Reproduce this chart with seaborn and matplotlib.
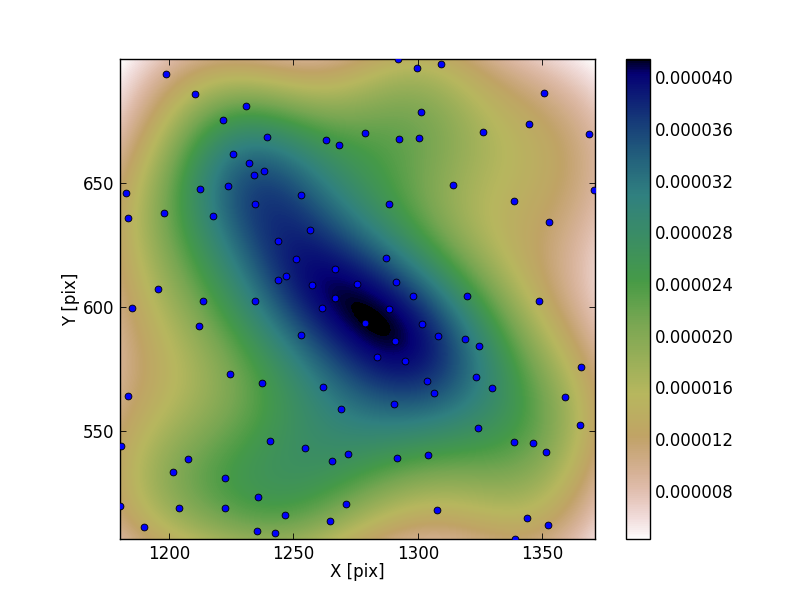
import numpy as np
import pandas as pd
import matplotlib
matplotlib.use("Agg")
import matplotlib.pyplot as plt
from matplotlib.ticker import FormatStrFormatter
import seaborn as sns

x_pix = [1198.8,1210.5,1231.0,1221.7,1239.4,1263.1,1268.4,1278.7,1225.7,1232.2,1238.2,1234.2,1212.5,1223.7,1182.7,1253.1,1234.6,1198.0,1217.7,1183.5,1256.7,1243.8,1251.1,1266.7,1247.0,1243.8,1257.5,1275.6,1195.6,1266.7,
         1185.1,1213.7,1234.6,1261.5,1212.1,1253.1,1224.5,1237.4,1261.9,1183.8,1269.2,1240.6,1180.8,1254.7,1272.0,1265.5,1207.6,1201.6,1222.5,1235.8,1271.2,1180.6,1204.0,1222.5,1246.6,1264.7,1189.9,1235.4,1242.6,
         1292.0,1299.6,1309.2,1350.7,1301.2,1344.6,1326.1,1368.8,1292.4,1300.4,1314.1,1370.8,1288.3,1338.6,1352.7,1287.1,1291.2,1298.0,1319.7,
         1348.7,1288.3,1278.7,1301.6,1308.0,1318.9,1324.5,1290.8,1283.5,1294.8,1303.6,1323.3,1329.7,1306.4,1365.5,1359.1,1290.4,1365.1,1324.1,1338.6,1346.2,1351.4,1291.6,1304.0,1307.6,1343.8,1352.3,1339.0]
y_pix = [694.0,685.9,681.0,675.4,668.5,667.3,665.3,670.2,661.7,658.1,654.8,653.2,647.6,648.8,646.0,645.2,641.5,637.9,636.7,635.9,631.0,626.6,619.4,615.3,612.5,610.9,608.9,609.3,607.3,603.6,
         599.6,602.4,602.4,599.6,592.3,588.7,573.0,569.4,567.7,564.1,558.9,546.0,544.0,543.1,540.7,537.9,538.7,533.5,531.0,523.4,520.6,519.8,519.0,519.0,516.1,513.7,511.3,509.7,508.9,
         700.0,696.4,698.0,686.3,678.6,673.8,670.6,669.8,667.7,668.1,649.2,647.2,641.5,642.7,634.3,619.8,610.1,604.4,604.4,
         602.4,599.2,593.5,593.1,588.3,587.1,584.3,586.3,579.8,578.2,570.2,571.8,567.3,565.3,575.8,563.7,560.9,552.4,551.2,545.6,545.2,541.5,539.1,540.3,518.1,514.9,512.1,506.5]
x_range = [1180.4, 1371.2]
y_range = [506.4, 699.9]
color_range = [0.00000424, 0.00004140]
cbar_ticks = [0.000008,0.000012,0.000016,0.000020,0.000024,0.000028,0.000032,0.000036,0.000040]

sns.set_style("white")
plt.rcParams.update({"font.family":"DejaVu Sans","font.size":12,"xtick.direction":"in","ytick.direction":"in",
                     "xtick.top":True,"ytick.right":True,"xtick.bottom":True,"ytick.left":True,
                     "text.color":"black","axes.labelcolor":"black","xtick.color":"black","ytick.color":"black",
                     "axes.edgecolor":"black","axes.linewidth":1.0,"xtick.major.size":4,"ytick.major.size":4})

df = pd.DataFrame({"x":x_pix,"y":y_pix})
pts = df.to_numpy().T
gx = np.linspace(*x_range,100); gy = np.linspace(*y_range,100)
GX,GY = np.meshgrid(gx,gy)
n = pts.shape[1]
cov = np.cov(pts)*n**(-1/3)
inv = np.linalg.inv(cov)
dx = GX[...,None]-pts[0]; dy = GY[...,None]-pts[1]
q = inv[0,0]*dx**2+2*inv[0,1]*dx*dy+inv[1,1]*dy**2
Z = np.exp(-q/2).sum(-1)/(n*2*np.pi*np.sqrt(np.linalg.det(cov)))

bottom = 0.1013
fig = plt.figure(figsize=(8,6),dpi=100)
ax = fig.add_axes([0.15,bottom,0.594,0.8])
im = ax.imshow(Z,origin="lower",extent=[*x_range,*y_range],aspect="auto",cmap="gist_earth_r",interpolation="bilinear",
               vmin=color_range[0],vmax=color_range[1])
sns.scatterplot(data=df,x="x",y="y",ax=ax,color="blue",s=24,edgecolor="black",linewidth=0.6,clip_on=True,zorder=3)
ax.set_xlim(*x_range); ax.set_ylim(*y_range)
ax.set_xticks([1200,1250,1300,1350]); ax.set_yticks([550,600,650])
ax.set_xlabel("X [pix]",fontsize=12,labelpad=0.5); ax.set_ylabel("Y [pix]",fontsize=12,labelpad=2)
ax.tick_params(labelsize=12,pad=4,width=0.6)
cax = fig.add_axes([0.783,bottom,0.03,0.8])
cb = fig.colorbar(im,cax=cax,ticks=cbar_ticks,format=FormatStrFormatter("%.6f"))
cax.tick_params(labelsize=12,direction="in",length=4,left=True,right=True,width=0.6)
fig.savefig("out.png",dpi=100)
